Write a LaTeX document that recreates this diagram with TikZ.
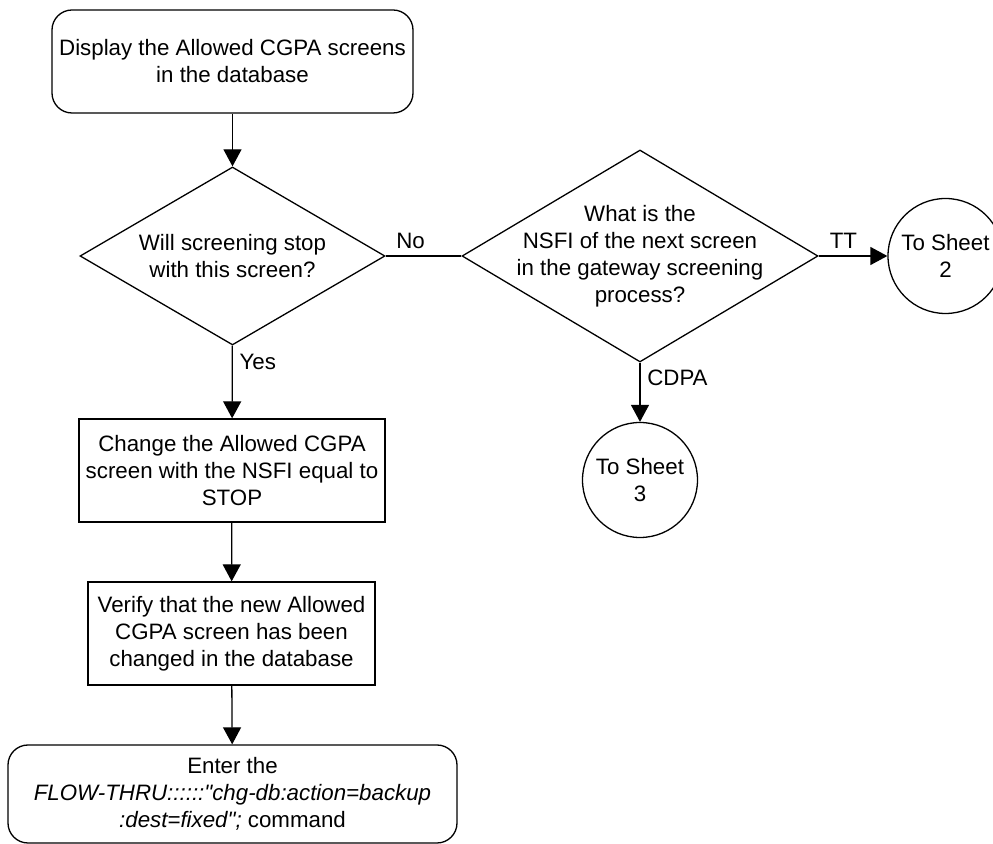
\documentclass[tikz,border=0pt]{standalone}
\usepackage{fontspec}
\setmainfont{Liberation Sans}
\usetikzlibrary{shapes.geometric,arrows.meta}

\begin{document}
\begin{tikzpicture}[x=0.5pt, y=-0.5pt, line width=0.65pt,
  font=\fontsize{11.15pt}{13.5pt}\selectfont,
  procbox/.style={draw, minimum width=#1, minimum height=51.5pt,
                  inner sep=0pt, align=center},
  term/.style={procbox=#1, rounded corners=10pt},
  decision/.style={draw, diamond, aspect=1.7, inner sep=-10pt, align=center},
  sheet/.style={draw, circle, minimum size=57.5pt, inner sep=0pt, align=center},
  arr/.style={-{Triangle[length=8.5pt, width=9pt]}}
]
  \useasboundingbox (0,0) rectangle (993,844);
  \node[term=180.5pt]    (disp)   at (232.5,61.5) {Display the Allowed CGPA screens\\in the database};
  \node[decision, minimum width=152.5pt, minimum height=89pt]
                         (stop)   at (232.5,256)  {Will screening stop\\with this screen?};
  \node[decision, minimum width=178pt, minimum height=106pt]
                         (nsfi)   at (640,256)    {What is the\\NSFI of the next screen\\in the gateway screening\\process?};
  \node[sheet]           (sheet2) at (945.5,256)  {To Sheet\\2};
  \node[sheet]           (sheet3) at (640,480)    {To Sheet\\3};
  \node[procbox=153pt]   (chg)    at (232,470.5)  {Change the Allowed CGPA\\screen with the NSFI equal to\\STOP};
  \node[procbox=143.5pt] (verify) at (231.5,633.5){Verify that the new Allowed\\CGPA screen has been\\changed in the database};
  \node[term=224.5pt, minimum height=49pt]
                         (backup) at (232.5,794)  {Enter the\\\textit{FLOW-THRU::::::\textquotedbl chg-db:action=backup}\\\textit{:dest=fixed\textquotedbl;} command};
  % connectors
  \draw[arr] (disp) -- (stop);
  \draw (stop) -- node[above, pos=0.33] (no) {No} (nsfi);
  \draw[arr] (nsfi) -- node[above, pos=0.36] (tt) {TT} (sheet2);
  \draw[arr] (nsfi) -- node[right, pos=0.25] (cdpa) {CDPA} (sheet3);
  \draw[arr] (stop) -- node[right, pos=0.23] (yes) {Yes} (chg);
  \draw[arr] (chg) -- (verify);
  \draw[arr] (verify) -- (backup);
\end{tikzpicture}
\end{document}
